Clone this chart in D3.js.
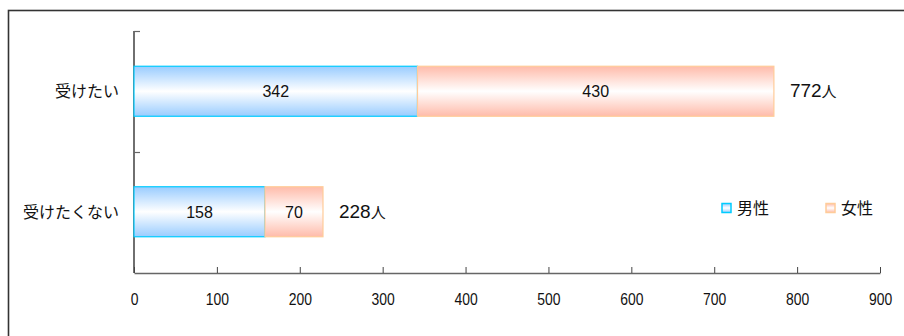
<!DOCTYPE html>
<html><head><meta charset="utf-8">
<script src="https://cdn.jsdelivr.net/npm/d3@7/dist/d3.min.js"></script>
<style>
html,body{margin:0;padding:0;background:#fff;}
svg{display:block;}
</style></head>
<body>
<svg id="chart" width="904" height="336"></svg>
<script>
const categories = ["受けたい", "受けたくない"];
const male = [342, 158];
const female = [430, 70];
const totals = [772, 228];
const seriesNames = ["男性", "女性"];
const xTicks = [0, 100, 200, 300, 400, 500, 600, 700, 800, 900];

const svg = d3.select("#chart");
const numFont = "'Liberation Sans', Arial, sans-serif";
const jpFont = "'Noto Sans CJK JP', sans-serif";

// outer frame
svg.append("rect").attr("x", 8.5).attr("y", 10.5).attr("width", 1000).attr("height", 400)
  .attr("fill", "none").attr("stroke", "#333").attr("stroke-width", 1.6);

const defs = svg.append("defs");
function grad(id, edge) {
  const g = defs.append("linearGradient").attr("id", id)
    .attr("x1", 0).attr("y1", 0).attr("x2", 0).attr("y2", 1);
  g.append("stop").attr("offset", "0%").attr("stop-color", edge);
  g.append("stop").attr("offset", "50%").attr("stop-color", "#ffffff");
  g.append("stop").attr("offset", "100%").attr("stop-color", edge);
}
grad("gMale", "#99ccff");
grad("gFemale", "#ffbbaa");
const fills = ["url(#gMale)", "url(#gFemale)"];
const strokes = ["#00ccff", "#ffcc99"];

const x = d3.scaleLinear().domain([0, 900]).range([134, 880]);
const y = d3.scaleBand().domain(categories).range([31, 272]).paddingInner(0.585).paddingOuter(0.2925);

// y axis
svg.append("line").attr("x1", 134).attr("x2", 134).attr("y1", 31).attr("y2", 273)
  .attr("stroke", "#222").attr("stroke-width", 1.3);
[31, 152].forEach(v => {
  svg.append("line").attr("x1", 134).attr("x2", 140).attr("y1", v + 0.5).attr("y2", v + 0.5)
    .attr("stroke", "#666").attr("stroke-width", 1.2);
});

// x axis (condensed tick labels)
const xAxis = svg.append("g").attr("transform", "translate(0,273)")
  .call(d3.axisBottom(x).tickValues(xTicks).tickSize(-6).tickPadding(20).tickSizeOuter(0));
xAxis.select(".domain").attr("stroke", "#666").attr("stroke-width", 1.3);
xAxis.selectAll(".tick line").attr("stroke", "#444");
xAxis.selectAll("text").attr("font-family", numFont)
  .attr("font-size", 17).attr("fill", "#111").attr("transform", "scale(0.82,1)");

// category labels
svg.selectAll(".cat").data(categories).enter().append("text")
  .attr("x", 119).attr("y", d => y(d) + y.bandwidth() / 2)
  .attr("dy", "0.36em").attr("text-anchor", "end")
  .attr("font-family", jpFont).attr("font-size", 16).attr("fill", "#111")
  .text(d => d);

// stacked bars
const rows = categories.map((c, i) => ({ c, vals: [male[i], female[i]] }));
rows.forEach((r, i) => {
  let acc = 0;
  r.vals.forEach((v, s) => {
    const x0 = x(acc), x1 = x(acc + v);
    svg.append("rect").attr("x", x0).attr("y", y(r.c)).attr("width", x1 - x0).attr("height", y.bandwidth())
      .attr("fill", fills[s]).attr("stroke", strokes[s]).attr("stroke-width", 1.2);
    svg.append("text").attr("x", (x0 + x1) / 2).attr("y", y(r.c) + y.bandwidth() / 2)
      .attr("dy", "0.36em").attr("text-anchor", "middle")
      .attr("font-family", numFont).attr("font-size", 16).attr("fill", "#111").text(v);
    acc += v;
  });
  const t = svg.append("text").attr("x", x(totals[i]) + 16).attr("y", y(r.c) + y.bandwidth() / 2)
    .attr("dy", "0.36em").attr("fill", "#111");
  t.append("tspan").attr("font-family", numFont).attr("font-size", 19).text(totals[i]);
  t.append("tspan").attr("font-family", jpFont).attr("font-size", 15).text("人");
});

// legend
const legendX = [722, 826];
seriesNames.forEach((n, s) => {
  svg.append("rect").attr("x", legendX[s]).attr("y", 203.5).attr("width", 9).attr("height", 9)
    .attr("fill", fills[s]).attr("stroke", strokes[s]).attr("stroke-width", 1.5);
  svg.append("text").attr("x", legendX[s] + 15).attr("y", 208).attr("dy", "0.36em")
    .attr("font-family", jpFont).attr("font-size", 16).attr("fill", "#111").text(n);
});
</script>
</body></html>
